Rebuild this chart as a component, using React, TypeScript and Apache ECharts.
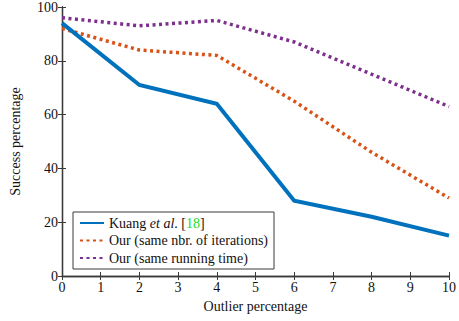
import React, { useEffect, useRef } from "react";
import * as echarts from "echarts";

const xValues = [0, 2, 4, 6, 8, 10];
const kuang = [94, 71, 64, 28, 22, 15];
const sameIter = [92, 84, 82, 65, 46, 29];
const sameTime = [96, 93, 95, 87, 75, 63];
const seriesNames = ["Kuang et al. [18]", "Our (same nbr. of iterations)", "Our (same running time)"];

const FONT = "Liberation Serif";
const AXIS = "#3a3a3a";

export default function App() {
  const ref = useRef<HTMLDivElement>(null);
  useEffect(() => {
    if (!ref.current) return;
    const chart = echarts.init(ref.current, undefined, { renderer: "svg" });
    const pairs = (ys: number[]) => xValues.map((x, i) => [x, ys[i]]);
    const axisCommon = {
      axisLine: { show: true, lineStyle: { color: AXIS, width: 1.3 } },
      axisTick: { show: true, inside: true, length: 4, lineStyle: { color: AXIS, width: 1 } },
      splitLine: { show: false },
    };
    const base = { fontFamily: FONT, fontSize: 14, color: "#111" };
    const leg = { fontFamily: FONT, fontSize: 14, color: "#111" };
    chart.setOption({
      animation: false,
      backgroundColor: "#fff",
      grid: { left: 61, right: 7, top: 5, bottom: 45, containLabel: false },
      legend: {
        orient: "vertical",
        left: 73,
        top: 212,
        padding: [4, 6, 4, 6],
        borderColor: AXIS,
        borderWidth: 1,
        itemWidth: 24,
        itemHeight: 14,
        itemGap: 3.5,
        itemStyle: { color: "transparent", borderColor: "transparent", borderWidth: 0, opacity: 0 },
        textStyle: {
          ...leg,
          rich: {
            n: { ...leg },
            i: { ...leg, fontStyle: "italic" },
            g: { ...leg, color: "#22dd22" },
          },
        },
        formatter: (name: string) =>
          name === seriesNames[0] ? "{n|Kuang }{i|et al}{n|. [}{g|18}{n|]}" : "{n|" + name + "}",
        data: seriesNames,
      },
      xAxis: [
        {
          type: "value",
          min: 0,
          max: 10,
          interval: 1,
          name: "Outlier percentage",
          nameLocation: "middle",
          nameGap: 23,
          nameTextStyle: { ...base },
          axisLabel: { fontFamily: FONT, fontSize: 14, color: "#111", margin: 4 },
          ...axisCommon,
        },
        {
          type: "value",
          position: "top",
          min: 0,
          max: 10,
          interval: 1,
          axisLabel: { show: false },
          ...axisCommon,
        },
      ],
      yAxis: [
        {
          type: "value",
          min: 0,
          max: 100,
          interval: 20,
          name: "Success percentage",
          nameLocation: "middle",
          nameGap: 40,
          nameTextStyle: { ...base },
          axisLabel: { fontFamily: FONT, fontSize: 14, color: "#111", margin: 4 },
          ...axisCommon,
        },
        {
          type: "value",
          position: "right",
          min: 0,
          max: 100,
          interval: 20,
          axisLabel: { show: false },
          ...axisCommon,
        },
      ],
      series: [
        {
          name: seriesNames[0],
          type: "line",
          data: pairs(kuang),
          symbol: "none",
          lineStyle: { color: "#0072BD", width: 4, cap: "butt", join: "miter" },
          itemStyle: { color: "#0072BD" },
          z: 3,
        },
        {
          name: seriesNames[1],
          type: "line",
          data: pairs(sameIter),
          symbol: "none",
          lineStyle: { color: "#D95319", width: 3.5, type: [3, 3.5], cap: "butt" },
          itemStyle: { color: "#D95319" },
          z: 2,
        },
        {
          name: seriesNames[2],
          type: "line",
          data: pairs(sameTime),
          symbol: "none",
          lineStyle: { color: "#7E2F8E", width: 3.5, type: [3, 3.5], cap: "butt" },
          itemStyle: { color: "#7E2F8E" },
          z: 1,
        },
      ],
    });
    return () => chart.dispose();
  }, []);
  return <div ref={ref} style={{ width: 459, height: 321, position: "absolute", left: 0, top: 0 }} />;
}
